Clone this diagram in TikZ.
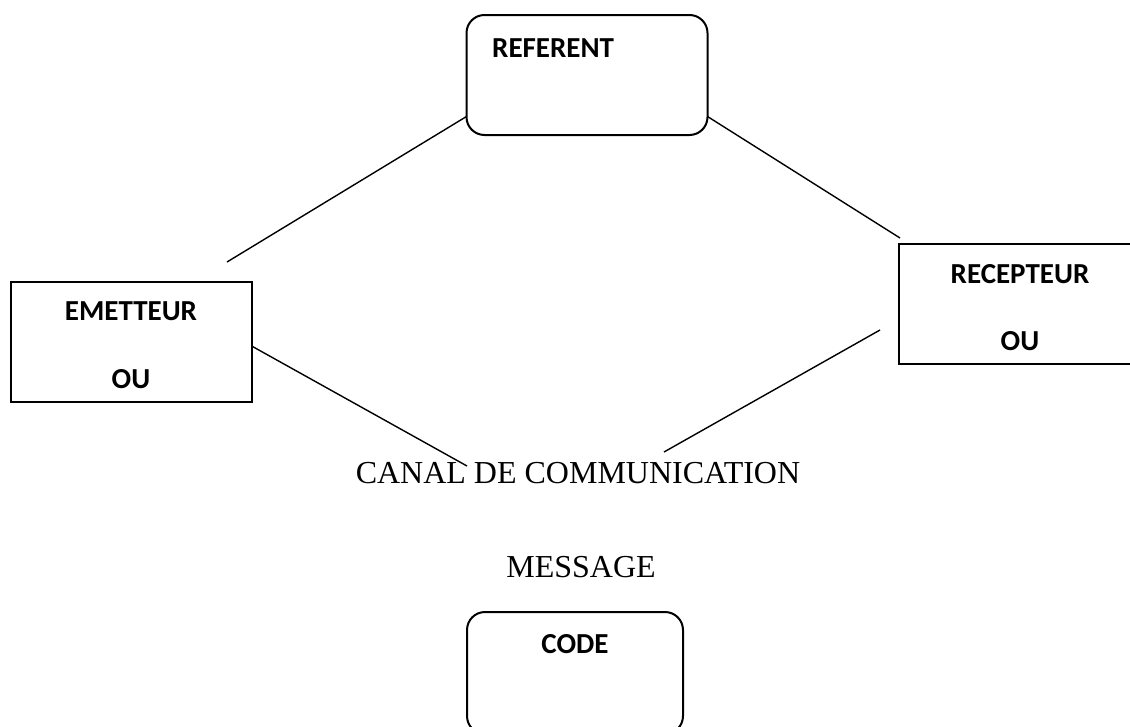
\documentclass[tikz,border=0pt]{standalone}
\usepackage{fontspec}
\setmainfont{Liberation Serif}
\newfontfamily\calibrifont{Carlito}
\usetikzlibrary{calc}
\begin{document}
\begin{tikzpicture}[x=1pt,y=-1pt,
  roundbox/.style={draw,line width=2pt,rounded corners=18pt,inner sep=0pt,outer sep=0pt},
  squarebox/.style={draw,line width=2pt,inner sep=0pt,outer sep=0pt},
  boxlabel/.style={inner sep=0pt,anchor=base,font=\calibrifont\bfseries\fontsize{29}{31}\selectfont},
  plainlabel/.style={inner sep=0pt,anchor=base,font=\fontsize{32}{35}\selectfont},
  link/.style={line width=1.4pt}]
\useasboundingbox (0,0) rectangle (1130,726);
\clip (0,0) rectangle (1130,726);
% boxes
\node[roundbox,minimum width=241pt,minimum height=120pt] (ref) at (587,75) {};
\node[squarebox,minimum width=241pt,minimum height=120pt] (emet) at (131.5,342) {};
\node[squarebox,minimum width=242pt,minimum height=120pt] (recep) at (1020,304) {};
\node[roundbox,minimum width=216pt,minimum height=122pt] (code) at (575,673) {};
% texts
\node[boxlabel,anchor=base west] (reft) at (492,57) {REFERENT};
\node[boxlabel] (emett) at (131,320) {EMETTEUR};
\node[boxlabel] (emeto) at (131,388) {OU};
\node[boxlabel] (rect) at (1020,283) {RECEPTEUR};
\node[boxlabel] (reco) at (1020,350) {OU};
\node[boxlabel] (codet) at (575,653) {CODE};
\node[plainlabel] (canal) at (578,483) {CANAL DE COMMUNICATION};
\node[plainlabel] (msg) at (581,577) {MESSAGE};
% free ends
\coordinate (c1) at (227,262);
\coordinate (c2) at (900,238);
\coordinate (c3) at (467,466);
\coordinate (c4a) at (664,452);
\coordinate (c4b) at (880,330);
% connectors
\draw[link] (c1) -- (ref.199);
\draw[link] (ref.341) -- (c2);
\draw[link] (emet.-2) -- (c3);
\draw[link] (c4a) -- (c4b);
\end{tikzpicture}
\end{document}
